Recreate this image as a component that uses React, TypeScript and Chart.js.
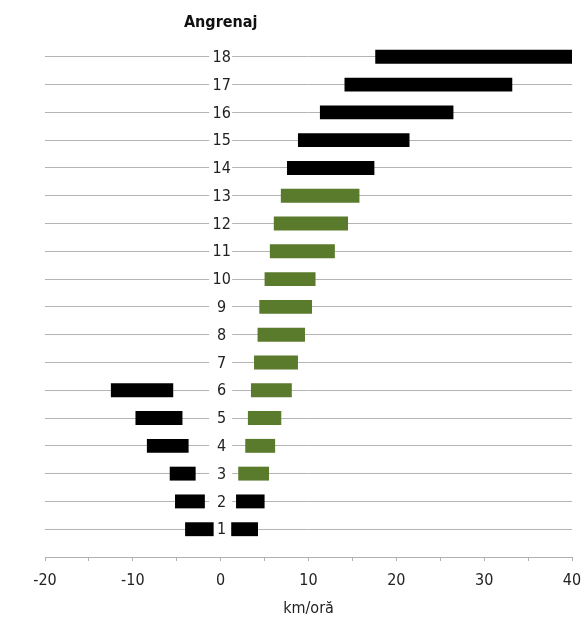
import React, { useEffect, useRef } from "react";
import { Chart, registerables } from "chart.js";

Chart.register(...registerables);

const categories = ["1", "2", "3", "4", "5", "6", "7", "8", "9", "10", "11", "12", "13", "14", "15", "16", "17", "18"];
const rightStart = [1.2, 1.75, 2.0, 2.8, 3.1, 3.45, 3.8, 4.2, 4.4, 5.0, 5.6, 6.05, 6.85, 7.55, 8.8, 11.3, 14.1, 17.6];
const rightEnd = [4.25, 5.0, 5.5, 6.2, 6.9, 8.1, 8.8, 9.6, 10.4, 10.8, 13.0, 14.5, 15.8, 17.5, 21.5, 26.5, 33.2, 40];
const rightIsGreen = [false, false, true, true, true, true, true, true, true, true, true, true, true, false, false, false, false, false];
const leftStart = [-4.05, -5.2, -5.8, -8.4, -9.7, -12.5];
const leftEnd = [-0.8, -1.8, -2.85, -3.65, -4.35, -5.4];
const xTickLabels = ["-20", "-10", "0", "10", "20", "30", "40"];
const yTitle = "Angrenaj";
const xTitle = "km/oră";

const GREEN = "#5a7a2c";
const BLACK = "#000000";
const FONT = "'DejaVu Sans Condensed', 'Liberation Sans', sans-serif";

export default function App() {
  const ref = useRef<HTMLCanvasElement | null>(null);

  useEffect(() => {
    document.body.style.margin = "0";
    const canvas = ref.current;
    if (!canvas) return;

    const labelPlugin = {
      id: "centerLabels",
      beforeDatasetsDraw(chart: any) {
        const { ctx, scales } = chart;
        const xs = scales.x;
        const ys = scales.y;
        const x0 = xs.getPixelForValue(0);
        ctx.save();
        ctx.font = `16px ${FONT}`;
        ctx.textAlign = "center";
        ctx.textBaseline = "middle";
        categories.forEach((c, i) => {
          const y = ys.getPixelForValue(i + 1);
          ctx.fillStyle = "#ffffff";
          ctx.fillRect(x0 - 11.5, y - 3, 23, 6);
          ctx.fillStyle = "#222222";
          ctx.fillText(c, x0 + 1, y + 1);
        });
        ctx.restore();
      },
      afterDraw(chart: any) {
        const { ctx, scales } = chart;
        const x0 = scales.x.getPixelForValue(0);
        ctx.save();
        ctx.font = `bold 16px ${FONT}`;
        ctx.textAlign = "center";
        ctx.textBaseline = "middle";
        ctx.fillStyle = "#111111";
        ctx.fillText(yTitle, x0, 23);
        ctx.restore();
      },
    };

    const chart = new Chart(canvas, {
      type: "bar",
      data: {
        datasets: [
          {
            label: "right",
            data: categories.map((c, i) => ({ x: [rightStart[i], rightEnd[i]], y: i + 1 })) as any,
            backgroundColor: rightIsGreen.map((g) => (g ? GREEN : BLACK)),
            borderWidth: 0,
            grouped: false,
            barPercentage: 0.5,
            categoryPercentage: 1,
          } as any,
          {
            label: "left",
            data: leftStart.map((s, i) => ({ x: [s, leftEnd[i]], y: i + 1 })) as any,
            backgroundColor: BLACK,
            borderWidth: 0,
            grouped: false,
            barPercentage: 0.5,
            categoryPercentage: 1,
          } as any,
        ],
      },
      options: {
        indexAxis: "y",
        animation: false,
        responsive: true,
        maintainAspectRatio: false,
        layout: { padding: { top: 29, left: 45, right: 14, bottom: 0 } },
        plugins: {
          legend: { display: false },
          tooltip: { enabled: false },
          title: { display: false },
        },
        scales: {
          x: {
            type: "linear",
            min: -20,
            max: 40,
            afterFit(scale: any) {
              scale.height = 61;
              scale.paddingLeft = 0;
              scale.paddingRight = 0;
            },
            ticks: {
              stepSize: 5,
              autoSkip: false,
              maxRotation: 0,
              padding: 10,
              color: "#222222",
              font: { family: FONT, size: 16 },
              callback: (v: any) => {
                const idx = [-20, -10, 0, 10, 20, 30, 40].indexOf(Number(v));
                return idx >= 0 ? xTickLabels[idx] : "";
              },
            },
            grid: {
              drawOnChartArea: false,
              drawTicks: true,
              tickLength: 4,
              color: "#b0b0b0",
            },
            border: { display: true, color: "#b0b0b0", width: 1 },
            title: {
              display: true,
              text: xTitle,
              color: "#222222",
              font: { family: FONT, size: 16 },
              padding: { top: 0, bottom: 0 },
            },
          },
          y: {
            type: "linear",
            min: 0,
            max: 19,
            offset: false,
            afterFit(scale: any) {
              scale.width = 0;
            },
            ticks: { stepSize: 1, display: false },
            grid: {
              offset: false,
              drawTicks: false,
              color: (ctx: any) => {
                const v = ctx.tick ? ctx.tick.value : 0;
                return v >= 1 && v <= 18 ? "#b4b4b4" : "rgba(0,0,0,0)";
              },
              lineWidth: 1,
            },
            border: { display: false },
          },
        },
      } as any,
      plugins: [labelPlugin],
    });

    return () => chart.destroy();
  }, []);

  return (
    <div style={{ width: 586, height: 618, position: "relative" }}>
      <canvas ref={ref} />
    </div>
  );
}
